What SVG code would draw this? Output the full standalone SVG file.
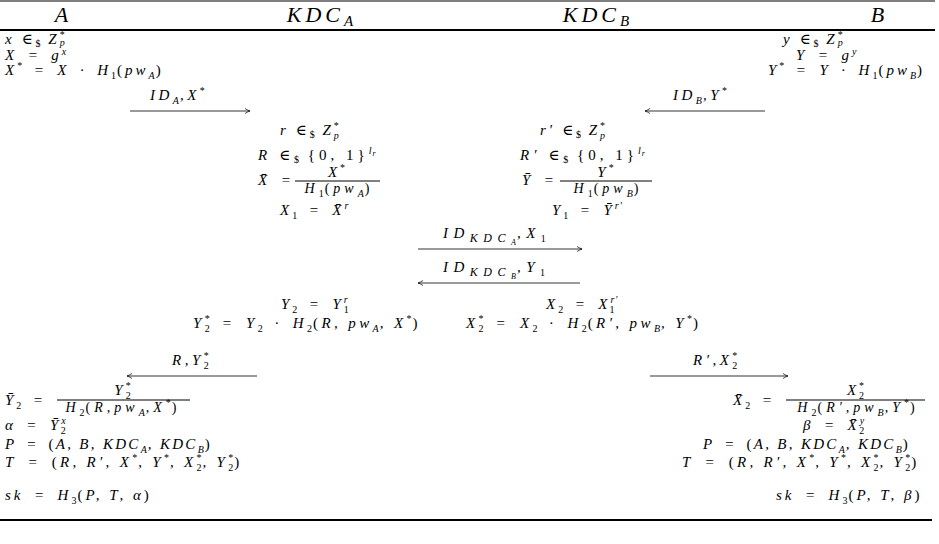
<svg xmlns="http://www.w3.org/2000/svg" width="939" height="544" viewBox="0 0 939 544">
<style>
.t{font-family:"Liberation Serif","DejaVu Serif",serif;font-size:15px;font-style:italic;fill:#000;letter-spacing:3px}
.p{letter-spacing:2.3px}
.tt{letter-spacing:3.3px}
.wd{letter-spacing:3.4px}
.f{font-size:14px;letter-spacing:4px}
.lb{letter-spacing:3.5px}
.lk{letter-spacing:5.5px}
.n{font-style:normal}
.sb{font-size:10px;letter-spacing:1px}
.ks{font-size:12px;letter-spacing:5.5px}
.hd{font-size:22px;letter-spacing:1px}
.hk{font-size:22px;letter-spacing:4px}
.hs{font-size:15px}
.rule{stroke:#000;fill:none}
.ar{stroke:#000;stroke-width:0.8;fill:none}
</style>
<defs>
<marker id="ah" markerUnits="userSpaceOnUse" markerWidth="10" markerHeight="8" refX="0" refY="0" viewBox="-6 -4 8 8" orient="auto">
<path d="M-5,-2.5 Q-2,-0.6 0,0 Q-2,0.6 -5,2.5" stroke="#000" stroke-width="0.7" fill="none"/>
</marker>
</defs>
<rect width="939" height="544" fill="#fff"/>
<g id="rules">
<line class="rule" x1="0" y1="1" x2="935" y2="1" stroke-width="1.2"/>
<line class="rule" x1="0" y1="30" x2="935" y2="30" stroke-width="2.2"/>
<line class="rule" x1="0" y1="520" x2="932" y2="520" stroke-width="2.2"/>
</g>
<g id="party-A">
<text class="t hd" x="62" y="22" text-anchor="middle">A</text>
<text class="t" x="5" y="44">x <tspan class="n">∈</tspan><tspan class="sb n" dy="3">$</tspan><tspan dy="-3"> Z</tspan><tspan class="sb n" dy="-6">*</tspan><tspan class="sb" dx="-6" dy="8">p</tspan></text>
<text class="t" x="5" y="60">X&#8194;=&#8194;g<tspan class="sb" dy="-5">x</tspan></text>
<text class="t" x="5" y="75">X<tspan class="sb n" dy="-6">*</tspan><tspan dy="6">&#8194;=&#8194;X&#8194;·&#8194;H</tspan><tspan class="sb n" dy="4">1</tspan><tspan class="n" dy="-4">(</tspan>pw<tspan class="sb" dy="4">A</tspan><tspan class="n" dy="-4">)</tspan></text>
<text class="t" x="5" y="405">Ȳ<tspan class="sb n" dy="4">2</tspan><tspan dy="-4">&#8194;=</tspan></text>
<text class="t" x="123" y="395" text-anchor="middle">Y<tspan class="sb n" dy="-6">*</tspan><tspan class="sb n" dx="-6" dy="10">2</tspan></text>
<line class="rule" x1="57" y1="400" x2="190" y2="400" stroke-width="1"/>
<text class="t f" x="123" y="412" text-anchor="middle">H<tspan class="sb n" dy="4">2</tspan><tspan class="n" dy="-4">(</tspan>R,pw<tspan class="sb" dy="4">A</tspan><tspan dy="-4">,X</tspan><tspan class="sb n" dy="-6">*</tspan><tspan class="n" dy="6">)</tspan></text>
<text class="t" x="5" y="430">α&#8194;=&#8194;Ȳ<tspan class="sb" dy="-6">x</tspan><tspan class="sb n" dx="-6" dy="10">2</tspan></text>
<text class="t p" x="5" y="449">P&#8194;=&#8194;<tspan class="n">(</tspan>A, B, KDC<tspan class="sb" dy="4">A</tspan><tspan dy="-4">, KDC</tspan><tspan class="sb" dy="4">B</tspan><tspan class="n" dy="-4">)</tspan></text>
<text class="t tt" x="5" y="467">T&#8194;=&#8194;<tspan class="n">(</tspan>R, R′, X<tspan class="sb n" dy="-6">*</tspan><tspan dy="6">, Y</tspan><tspan class="sb n" dy="-6">*</tspan><tspan dy="6">, X</tspan><tspan class="sb n" dy="-6">*</tspan><tspan class="sb n" dx="-6" dy="10">2</tspan><tspan dy="-4">, Y</tspan><tspan class="sb n" dy="-6">*</tspan><tspan class="sb n" dx="-6" dy="10">2</tspan><tspan class="n" dy="-4">)</tspan></text>
<text class="t" x="5" y="500">sk&#8194;=&#8194;H<tspan class="sb n" dy="4">3</tspan><tspan class="n" dy="-4">(</tspan>P, T, α<tspan class="n">)</tspan></text>
</g>
<g id="party-KDCA">
<text class="t hk" x="322" y="22" text-anchor="middle">KDC<tspan class="hs" dy="4">A</tspan></text>
<text class="t" x="280" y="135">r <tspan class="n">∈</tspan><tspan class="sb n" dy="3">$</tspan><tspan dy="-3"> Z</tspan><tspan class="sb n" dy="-6">*</tspan><tspan class="sb" dx="-6" dy="10">p</tspan></text>
<text class="t" x="258" y="160" style="letter-spacing:4px">R <tspan class="n">∈</tspan><tspan class="sb n" dy="3">$</tspan><tspan class="n" dy="-3"> {0, 1}</tspan><tspan class="sb" dy="-6">l</tspan><tspan class="sb" dy="2" style="font-size:8px">r</tspan></text>
<text class="t" x="258" y="185">X̄&#8194;=</text>
<text class="t" x="337" y="177" text-anchor="middle">X<tspan class="sb n" dy="-6">*</tspan></text>
<line class="rule" x1="295" y1="181" x2="380" y2="181" stroke-width="1"/>
<text class="t f" x="339" y="193" text-anchor="middle">H<tspan class="sb n" dy="4">1</tspan><tspan class="n" dy="-4">(</tspan>pw<tspan class="sb" dy="4">A</tspan><tspan class="n" dy="-4">)</tspan></text>
<text class="t" x="280" y="215">X<tspan class="sb n" dy="4">1</tspan><tspan dy="-4">&#8194;=&#8194;X̄</tspan><tspan class="sb" dy="-6">r</tspan></text>
<text class="t" x="281" y="309">Y<tspan class="sb n" dy="4">2</tspan><tspan dy="-4">&#8194;=&#8194;Y</tspan><tspan class="sb" dy="-6">r</tspan><tspan class="sb n" dx="-5" dy="10">1</tspan></text>
<text class="t wd" x="193" y="328">Y<tspan class="sb n" dy="-6">*</tspan><tspan class="sb n" dx="-6" dy="10">2</tspan><tspan dy="-4">&#8194;=&#8194;Y</tspan><tspan class="sb n" dy="4">2</tspan><tspan dy="-4">&#8194;·&#8194;H</tspan><tspan class="sb n" dy="4">2</tspan><tspan class="n" dy="-4">(</tspan>R, pw<tspan class="sb" dy="4">A</tspan><tspan dy="-4">, X</tspan><tspan class="sb n" dy="-6">*</tspan><tspan class="n" dy="6">)</tspan></text>
</g>
<g id="party-KDCB">
<text class="t hk" x="598" y="22" text-anchor="middle">KDC<tspan class="hs" dy="4">B</tspan></text>
<text class="t" x="540" y="135">r′ <tspan class="n">∈</tspan><tspan class="sb n" dy="3">$</tspan><tspan dy="-3"> Z</tspan><tspan class="sb n" dy="-6">*</tspan><tspan class="sb" dx="-6" dy="10">p</tspan></text>
<text class="t" x="520" y="160" style="letter-spacing:4px">R′ <tspan class="n">∈</tspan><tspan class="sb n" dy="3">$</tspan><tspan class="n" dy="-3"> {0, 1}</tspan><tspan class="sb" dy="-6">l</tspan><tspan class="sb" dy="2" style="font-size:8px">r</tspan></text>
<text class="t" x="522" y="185">Ȳ&#8194;=</text>
<text class="t" x="606" y="177" text-anchor="middle">Y<tspan class="sb n" dy="-6">*</tspan></text>
<line class="rule" x1="560" y1="181" x2="652" y2="181" stroke-width="1"/>
<text class="t f" x="608" y="193" text-anchor="middle">H<tspan class="sb n" dy="4">1</tspan><tspan class="n" dy="-4">(</tspan>pw<tspan class="sb" dy="4">B</tspan><tspan class="n" dy="-4">)</tspan></text>
<text class="t" x="552" y="215">Y<tspan class="sb n" dy="4">1</tspan><tspan dy="-4">&#8194;=&#8194;Ȳ</tspan><tspan class="sb" dy="-6">r′</tspan></text>
<text class="t" x="546" y="309">X<tspan class="sb n" dy="4">2</tspan><tspan dy="-4">&#8194;=&#8194;X</tspan><tspan class="sb" dy="-6">r′</tspan><tspan class="sb n" dx="-9" dy="10">1</tspan></text>
<text class="t wd" x="466" y="328">X<tspan class="sb n" dy="-6">*</tspan><tspan class="sb n" dx="-6" dy="10">2</tspan><tspan dy="-4">&#8194;=&#8194;X</tspan><tspan class="sb n" dy="4">2</tspan><tspan dy="-4">&#8194;·&#8194;H</tspan><tspan class="sb n" dy="4">2</tspan><tspan class="n" dy="-4">(</tspan>R′, pw<tspan class="sb" dy="4">B</tspan><tspan dy="-4">, Y</tspan><tspan class="sb n" dy="-6">*</tspan><tspan class="n" dy="6">)</tspan></text>
</g>
<g id="party-B">
<text class="t hd" x="878" y="22" text-anchor="middle">B</text>
<text class="t" x="783" y="44">y <tspan class="n">∈</tspan><tspan class="sb n" dy="3">$</tspan><tspan dy="-3"> Z</tspan><tspan class="sb n" dy="-6">*</tspan><tspan class="sb" dx="-6" dy="8">p</tspan></text>
<text class="t" x="796" y="60">Y&#8194;=&#8194;g<tspan class="sb" dy="-5">y</tspan></text>
<text class="t" x="768" y="75">Y<tspan class="sb n" dy="-6">*</tspan><tspan dy="6">&#8194;=&#8194;Y&#8194;·&#8194;H</tspan><tspan class="sb n" dy="4">1</tspan><tspan class="n" dy="-4">(</tspan>pw<tspan class="sb" dy="4">B</tspan><tspan class="n" dy="-4">)</tspan></text>
<text class="t" x="733" y="405">X̄<tspan class="sb n" dy="4">2</tspan><tspan dy="-4">&#8194;=</tspan></text>
<text class="t" x="856" y="395" text-anchor="middle">X<tspan class="sb n" dy="-6">*</tspan><tspan class="sb n" dx="-6" dy="10">2</tspan></text>
<line class="rule" x1="786" y1="400" x2="925" y2="400" stroke-width="1"/>
<text class="t f" x="858" y="412" text-anchor="middle">H<tspan class="sb n" dy="4">2</tspan><tspan class="n" dy="-4">(</tspan>R′,pw<tspan class="sb" dy="4">B</tspan><tspan dy="-4">,Y</tspan><tspan class="sb n" dy="-6">*</tspan><tspan class="n" dy="6">)</tspan></text>
<text class="t" x="803" y="430">β&#8194;=&#8194;X̄<tspan class="sb" dy="-6">y</tspan><tspan class="sb n" dx="-6" dy="10">2</tspan></text>
<text class="t p" x="703" y="449">P&#8194;=&#8194;<tspan class="n">(</tspan>A, B, KDC<tspan class="sb" dy="4">A</tspan><tspan dy="-4">, KDC</tspan><tspan class="sb" dy="4">B</tspan><tspan class="n" dy="-4">)</tspan></text>
<text class="t tt" x="682" y="467">T&#8194;=&#8194;<tspan class="n">(</tspan>R, R′, X<tspan class="sb n" dy="-6">*</tspan><tspan dy="6">, Y</tspan><tspan class="sb n" dy="-6">*</tspan><tspan dy="6">, X</tspan><tspan class="sb n" dy="-6">*</tspan><tspan class="sb n" dx="-6" dy="10">2</tspan><tspan dy="-4">, Y</tspan><tspan class="sb n" dy="-6">*</tspan><tspan class="sb n" dx="-6" dy="10">2</tspan><tspan class="n" dy="-4">)</tspan></text>
<text class="t" x="776" y="500">sk&#8194;=&#8194;H<tspan class="sb n" dy="4">3</tspan><tspan class="n" dy="-4">(</tspan>P, T, β<tspan class="n">)</tspan></text>
</g>
<g id="connectors">
<line class="ar" x1="130" y1="111" x2="250" y2="111" marker-end="url(#ah)"/>
<text class="t lb" x="150" y="100">ID<tspan class="sb" dy="4">A</tspan><tspan dy="-4">,X</tspan><tspan class="sb n" dy="-6">*</tspan></text>
<line class="ar" x1="765" y1="111" x2="645" y2="111" marker-end="url(#ah)"/>
<text class="t lb" x="673" y="100">ID<tspan class="sb" dy="4">B</tspan><tspan dy="-4">,Y</tspan><tspan class="sb n" dy="-6">*</tspan></text>
<line class="ar" x1="418" y1="249" x2="582" y2="249" marker-end="url(#ah)"/>
<text class="t lk" x="443" y="238">ID<tspan class="ks" dy="4">KDC</tspan><tspan class="sb" style="font-size:8px" dy="3">A</tspan><tspan dy="-7">,X</tspan><tspan class="sb n" dy="4">1</tspan></text>
<line class="ar" x1="580" y1="283" x2="418" y2="283" marker-end="url(#ah)"/>
<text class="t lk" x="443" y="272">ID<tspan class="ks" dy="4">KDC</tspan><tspan class="sb" style="font-size:8px" dy="3">B</tspan><tspan dy="-7">,Y</tspan><tspan class="sb n" dy="4">1</tspan></text>
<line class="ar" x1="257" y1="376" x2="127" y2="376" marker-end="url(#ah)"/>
<text class="t lb" x="172" y="365">R,Y<tspan class="sb n" dy="-6">*</tspan><tspan class="sb n" dx="-6" dy="10">2</tspan></text>
<line class="ar" x1="650" y1="376" x2="788" y2="376" marker-end="url(#ah)"/>
<text class="t lb" x="693" y="365">R′,X<tspan class="sb n" dy="-6">*</tspan><tspan class="sb n" dx="-6" dy="10">2</tspan></text>
</g>
</svg>
